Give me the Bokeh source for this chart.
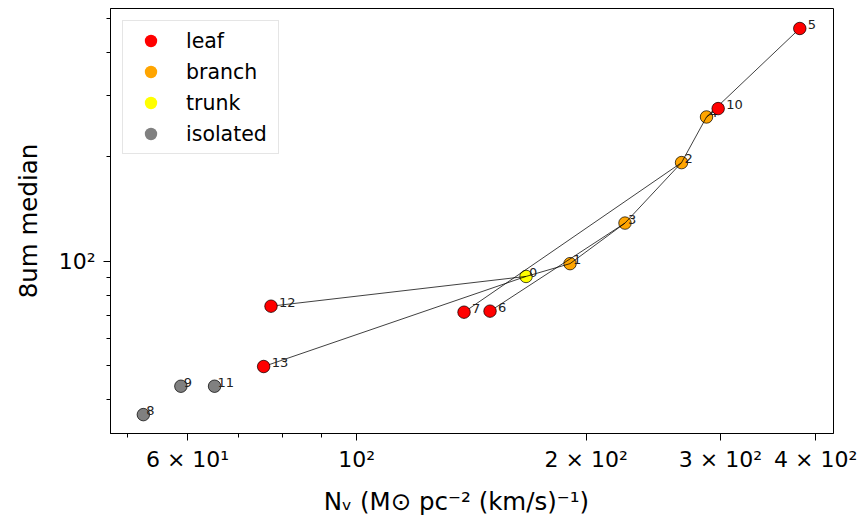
from bokeh.plotting import figure
from bokeh.models import (ColumnDataSource, FixedTicker, CustomJSTickFormatter,
                          Legend, LegendItem)
from bokeh.core.properties import value
from bokeh.embed import file_html
from bokeh.resources import INLINE

# ---------------- data ----------------
struct_id = [0, 1, 2, 3, 4, 5, 6, 7, 8, 9, 10, 11, 12, 13]
nv = [166.8, 190.5, 266.8, 224.9, 287.7, 381.3, 149.6, 138.3, 52.5, 58.8, 298.0, 65.1, 77.2, 75.5]
med8 = [90.5, 98.5, 192.5, 128.9, 260.5, 468.4, 71.9, 71.4, 36.2, 43.7, 275.4, 43.7, 74.3, 49.8]
kind = ["trunk", "branch", "branch", "branch", "branch", "leaf", "leaf", "leaf",
        "isolated", "isolated", "leaf", "isolated", "leaf", "leaf"]
parent = [-1, 0, 3, 1, 2, 4, 3, 2, -1, -1, 4, -1, 0, 0]

kinds = ["leaf", "branch", "trunk", "isolated"]
kind_colors = ["#ff0000", "#ffa500", "#ffff00", "#808080"]

x_ticks = [60, 100, 200, 300, 400]
x_tick_labels = ["6 × 10¹", "10²", "2 × 10²", "3 × 10²", "4 × 10²"]
x_minor = [50, 70, 80, 90]
y_ticks = [100]
y_tick_labels = ["10²"]
y_minor = [40, 50, 60, 70, 80, 90, 200, 300, 400, 500]

x_label = "Nᵥ (M⊙ pc⁻² (km/s)⁻¹)"
y_label = "8um median"

FONT = "DejaVu Sans"

# ---------------- figure ----------------
FRAME_L, FRAME_R, FRAME_T, FRAME_B = 110, 833, 8, 433
p = figure(width=865, height=519, x_axis_type="log", y_axis_type="log",
           x_range=(47.54, 422.2), y_range=(31.94, 534.8),
           output_backend="svg", toolbar_location=None,
           min_border_left=FRAME_L, min_border_right=865 - FRAME_R,
           min_border_top=FRAME_T, min_border_bottom=519 - FRAME_B)
p.grid.visible = False
p.outline_line_color = "black"
p.outline_line_width = 1
p.background_fill_color = "white"
p.border_fill_color = "white"

color_of = dict(zip(kinds, kind_colors))
idx_all = list(range(len(struct_id)))

def sub(sel):
    return ColumnDataSource(dict(
        x=[nv[i] for i in sel], y=[med8[i] for i in sel],
        t=[str(struct_id[i]) for i in sel],
        c=[color_of[kind[i]] for i in sel]))

# edge-less markers per kind (legend swatches, hidden underneath)
legend_items = []
for k, c in zip(kinds, kind_colors):
    sel = [i for i in idx_all if kind[i] == k]
    r = p.scatter("x", "y", source=sub(sel), size=12, fill_color=c, line_color=None)
    legend_items.append(LegendItem(label=k, renderers=[r]))

idx_leaf = [i for i in idx_all if kind[i] == "leaf"]
idx_other = [i for i in idx_all if kind[i] != "leaf"]

src_other = sub(idx_other)
p.scatter("x", "y", source=src_other, size=12.5, fill_color="c",
          line_color="black", line_width=0.7)

# dendrogram links (child -> parent)
kids = [i for i in idx_all if parent[i] >= 0]
seg = ColumnDataSource(dict(
    x0=[nv[i] for i in kids], y0=[med8[i] for i in kids],
    x1=[nv[parent[i]] for i in kids], y1=[med8[parent[i]] for i in kids]))
p.segment("x0", "y0", "x1", "y1", source=seg, line_color="black",
          line_width=1, line_alpha=0.75)

# structure labels
p.text("x", "y", text="t", source=src_other, x_offset=3, y_offset=-4,
       text_font=value(FONT), text_font_size="13px", text_color="#222222",
       text_baseline="middle", text_align="left")
src_leaf = sub(idx_leaf)
p.text("x", "y", text="t", source=src_leaf, x_offset=8, y_offset=-4,
       text_font=value(FONT), text_font_size="13px", text_color="#222222",
       text_baseline="middle", text_align="left")

p.scatter("x", "y", source=src_leaf, size=12.5, fill_color="c",
          line_color="black", line_width=0.7)

legend = Legend(items=legend_items, location="top_left", margin=12, padding=4,
                spacing=0, glyph_height=31, glyph_width=47, label_height=31,
                label_width=88, label_standoff=12, label_text_font=FONT,
                label_text_font_size="20.5px", label_text_color="black",
                border_line_color="#cccccc", border_line_width=1,
                background_fill_color="white", background_fill_alpha=0.8)
p.add_layout(legend)

# axes
fmt_code = """
for (let i = 0; i < tv.length; i++) {
  if (Math.abs(tv[i] - tick) < 1e-3 * tv[i]) return tl[i];
}
return '';
"""
p.xaxis.ticker = FixedTicker(ticks=x_ticks, minor_ticks=x_minor)
p.xaxis.formatter = CustomJSTickFormatter(args=dict(tv=x_ticks, tl=x_tick_labels), code=fmt_code)
p.yaxis.ticker = FixedTicker(ticks=y_ticks, minor_ticks=y_minor)
p.yaxis.formatter = CustomJSTickFormatter(args=dict(tv=y_ticks, tl=y_tick_labels), code=fmt_code)

for ax in (p.xaxis, p.yaxis):
    ax.axis_line_color = "black"
    ax.major_tick_line_color = "black"
    ax.minor_tick_line_color = "black"
    ax.major_tick_in = 0
    ax.minor_tick_in = 0
    ax.major_tick_out = 7
    ax.minor_tick_out = 4
    ax.major_label_text_font = FONT
    ax.major_label_text_font_size = "22px"
    ax.major_label_text_color = "black"
    ax.axis_label_text_font = FONT
    ax.axis_label_text_font_size = "24.5px"
    ax.axis_label_text_font_style = "normal"
    ax.axis_label_text_color = "black"

p.xaxis.major_label_standoff = 6
p.yaxis.major_label_standoff = 8
# trailing no-break spaces nudge the centred label left, as in the reference
p.xaxis.axis_label = x_label + "\u00a0" * 4
p.yaxis.axis_label = y_label
p.xaxis.axis_label_standoff = 12
p.yaxis.axis_label_standoff = 13

open("out.html", "w").write(file_html(p, INLINE))
